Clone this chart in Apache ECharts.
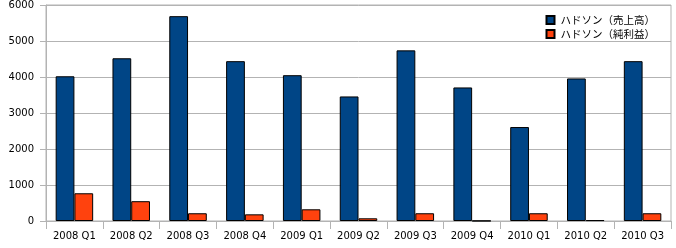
<!DOCTYPE html>
<html><head><meta charset="utf-8">
<script src="https://cdn.jsdelivr.net/npm/echarts@6/dist/echarts.min.js"></script>
<style>html,body{margin:0;padding:0;background:#fff}#c{width:676px;height:248px}</style>
</head><body><div id="c"></div>
<script>
const categories = ['2008 Q1','2008 Q2','2008 Q3','2008 Q4','2009 Q1','2009 Q2','2009 Q3','2009 Q4','2010 Q1','2010 Q2','2010 Q3'];
const salesName = 'ハドソン（売上高）';
const profitName = 'ハドソン（純利益）';
const sales = [4020, 4520, 5690, 4440, 4050, 3460, 4740, 3710, 2610, 3960, 4440];
const profit = [770, 550, 215, 185, 325, 75, 215, 5, 215, 25, 215];
const yTicks = {min: 0, max: 6000, interval: 1000};

const chart = echarts.init(document.getElementById('c'), null, {renderer: 'canvas'});
const labelFont = {fontFamily: 'DejaVu Sans', fontSize: 10, color: '#000'};
chart.setOption({
  animation: false,
  textStyle: {fontFamily: 'DejaVu Sans'},
  grid: {left: 46, right: 5, top: 5, bottom: 27, show: true, borderColor: '#b3b3b3', borderWidth: 1},
  legend: {
    orient: 'vertical', right: 16, top: 8,
    icon: 'rect', itemWidth: 8, itemHeight: 8, itemGap: 0,
    textStyle: {fontFamily: 'Noto Sans CJK JP', fontSize: 10.5, color: '#000', lineHeight: 14, padding: [0, 0, 0, 1]},
    data: [salesName, profitName]
  },
  xAxis: {
    type: 'category', data: categories,
    axisLine: {lineStyle: {color: '#b3b3b3'}},
    axisTick: {show: true, length: 8, lineStyle: {color: '#b3b3b3'}},
    axisLabel: Object.assign({margin: 10}, labelFont),
    splitLine: {show: false}
  },
  yAxis: {
    type: 'value', min: yTicks.min, max: yTicks.max, interval: yTicks.interval,
    axisLine: {show: true, lineStyle: {color: '#b3b3b3'}},
    axisTick: {show: true, length: 6, lineStyle: {color: '#b3b3b3'}},
    axisLabel: Object.assign({margin: 12, formatter: v => String(v)}, labelFont),
    splitLine: {lineStyle: {color: '#b3b3b3'}}
  },
  series: [
    {name: salesName, type: 'bar', data: sales, barGap: '0%', barCategoryGap: '34%',
     itemStyle: {color: '#004586', borderColor: '#000', borderWidth: 1}},
    {name: profitName, type: 'bar', data: profit,
     itemStyle: {color: '#ff420e', borderColor: '#000', borderWidth: 1}}
  ]
});
</script></body></html>
